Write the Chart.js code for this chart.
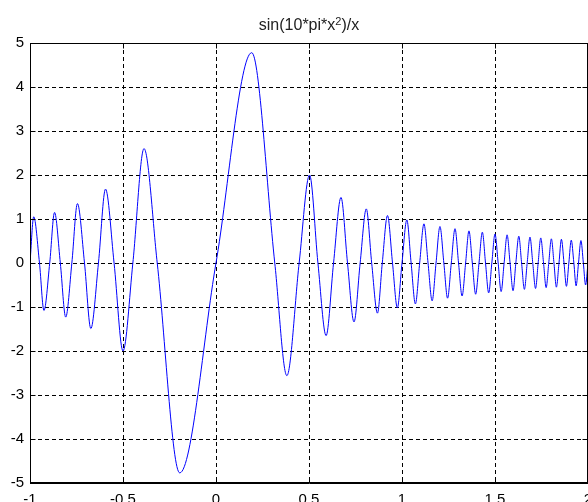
<!DOCTYPE html>
<html>
<head>
<meta charset="utf-8">
<script src="https://cdn.jsdelivr.net/npm/chart.js@4.4.1/dist/chart.umd.min.js"></script>
<style>
  html, body { margin: 0; padding: 0; background: #fff; overflow: hidden; width: 588px; height: 502px; }
  canvas { position: absolute; left: 0; top: 0; }
</style>
</head>
<body>
<canvas id="plot" width="620" height="520"></canvas>
<script>
// Curve: extrema and zero crossings, in order along x.
const curveX = [
  -1, -0.98, -0.949, -0.925, -0.894, -0.868, -0.837, -0.808, -0.775, -0.745,
  -0.707, -0.673, -0.632, -0.594, -0.548, -0.5, -0.447, -0.387, -0.316, -0.195,
  0, 0.192, 0.316, 0.381, 0.447, 0.503, 0.548, 0.592, 0.632, 0.672,
  0.707, 0.742, 0.775, 0.808, 0.837, 0.868, 0.894, 0.922, 0.949, 0.975,
  1.0, 1.026, 1.049, 1.072, 1.095, 1.118, 1.14, 1.162, 1.183, 1.204,
  1.225, 1.245, 1.265, 1.285, 1.304, 1.323, 1.342, 1.36, 1.378, 1.396,
  1.414, 1.432, 1.449, 1.466, 1.483, 1.5, 1.517, 1.533, 1.549, 1.565,
  1.581, 1.597, 1.612, 1.628, 1.643, 1.658, 1.673, 1.688, 1.703, 1.718,
  1.732, 1.746, 1.761, 1.775, 1.789, 1.803, 1.817, 1.83, 1.844, 1.857,
  1.871, 1.884, 1.897, 1.91, 1.924, 1.936, 1.949, 1.962, 1.975, 1.987, 2.0
];
const curveY = [
  0, 1.05, 0, -1.08, 0, 1.15, 0, -1.23, 0, 1.35,
  0, -1.49, 0, 1.68, 0, -2.0, 0, 2.6, 0, -4.77,
  0, 4.78, 0, -2.56, 0, 2.0, 0, -1.65, 0, 1.49,
  0, -1.34, 0, 1.23, 0, -1.14, 0, 1.08, 0, -1.02,
  0, 0.98, 0, -0.93, 0, 0.89, 0, -0.86, 0, 0.83,
  0, -0.80, 0, 0.78, 0, -0.75, 0, 0.73, 0, -0.71,
  0, 0.70, 0, -0.68, 0, 0.66, 0, -0.65, 0, 0.64,
  0, -0.63, 0, 0.61, 0, -0.60, 0, 0.59, 0, -0.58,
  0, 0.57, 0, -0.56, 0, 0.55, 0, -0.55, 0, 0.54,
  0, -0.53, 0, 0.52, 0, -0.52, 0, 0.51, 0, -0.50, 0
];

const xTickValues = [-1, -0.5, 0, 0.5, 1, 1.5, 2];
const xTickLabels = ["-1", "-0.5", "0", "0.5", "1", "1.5", "2"];
const yTickValues = [-5, -4, -3, -2, -1, 0, 1, 2, 3, 4, 5];
const yTickLabels = ["-5", "-4", "-3", "-2", "-1", "0", "1", "2", "3", "4", "5"];

const titleParts = ["sin(10*pi*x", "2", ")/x"];

const FONT = '"Liberation Sans", Arial, sans-serif';
const INK = "#000";

// MATLAB-style frame: solid box plus short inward ticks on all four sides.
const boxPlugin = {
  id: "box",
  afterDraw(chart) {
    const { ctx, chartArea: a, scales } = chart;
    const L = Math.round(a.left) + 0.5, R = Math.round(a.right) - 0.5;
    const T = Math.round(a.top) + 0.5, B = Math.round(a.bottom) - 0.5;
    ctx.save();
    ctx.strokeStyle = INK;
    ctx.lineWidth = 1;
    ctx.setLineDash([]);
    ctx.strokeRect(L, T, R - L, B - T);
    ctx.beginPath();
    xTickValues.forEach((v) => {
      const px = Math.round(scales.x.getPixelForValue(v)) + 0.5;
      ctx.moveTo(px, B); ctx.lineTo(px, B - 5);
      ctx.moveTo(px, T); ctx.lineTo(px, T + 5);
    });
    yTickValues.forEach((v) => {
      const py = Math.round(scales.y.getPixelForValue(v)) + 0.5;
      ctx.moveTo(L, py); ctx.lineTo(L + 5, py);
      ctx.moveTo(R, py); ctx.lineTo(R - 5, py);
    });
    ctx.stroke();

    // title with a raised exponent
    const cx = (a.left + a.right) / 2;
    const base = 29.5;
    ctx.fillStyle = "#222";
    ctx.textBaseline = "alphabetic";
    ctx.textAlign = "left";
    ctx.font = "16px " + FONT;
    const w0 = ctx.measureText(titleParts[0]).width;
    const w2 = ctx.measureText(titleParts[2]).width;
    ctx.font = "11px " + FONT;
    const w1 = ctx.measureText(titleParts[1]).width;
    let x = cx - (w0 + w1 + w2) / 2;
    ctx.font = "16px " + FONT;
    ctx.fillText(titleParts[0], x, base);
    x += w0;
    ctx.font = "11px " + FONT;
    ctx.fillText(titleParts[1], x, base - 5);
    x += w1;
    ctx.font = "16px " + FONT;
    ctx.fillText(titleParts[2], x, base);
    ctx.restore();
  },
};

const n = Math.min(curveX.length, curveY.length);
const points = [];
for (let i = 0; i < n; i++) points.push({ x: curveX[i], y: curveY[i] });

new Chart(document.getElementById("plot").getContext("2d"), {
  type: "line",
  data: {
    datasets: [{
      data: points,
      borderColor: "#0000ff",
      borderWidth: 1,
      pointRadius: 0,
      fill: false,
      cubicInterpolationMode: "monotone",
    }],
  },
  options: {
    responsive: false,
    animation: false,
    events: [],
    layout: { padding: { top: 43, right: 32, bottom: 17, left: 0 } },
    plugins: { legend: { display: false }, tooltip: { enabled: false }, title: { display: false } },
    scales: {
      x: {
        type: "linear",
        min: -1,
        max: 2,
        afterBuildTicks: (s) => { s.ticks = xTickValues.map((v) => ({ value: v })); },
        afterFit: (s) => { s.height = 20; },
        ticks: {
          autoSkip: false,
          maxRotation: 0,
          padding: 8,
          color: INK,
          font: { family: FONT, size: 15 },
          callback: (v, i) => xTickLabels[i],
        },
        grid: { color: INK, lineWidth: 1, drawTicks: false },
        border: { display: true, color: INK, width: 1, dash: [4, 3] },
      },
      y: {
        type: "linear",
        min: -5,
        max: 5,
        afterBuildTicks: (s) => { s.ticks = yTickValues.map((v) => ({ value: v })); },
        afterFit: (s) => { s.width = 30; },
        ticks: {
          autoSkip: false,
          padding: 6,
          color: INK,
          font: { family: FONT, size: 15 },
          callback: (v, i) => yTickLabels[i],
        },
        grid: { color: INK, lineWidth: 1, drawTicks: false },
        border: { display: true, color: INK, width: 1, dash: [4, 3] },
      },
    },
  },
  plugins: [boxPlugin],
});
</script>
</body>
</html>
